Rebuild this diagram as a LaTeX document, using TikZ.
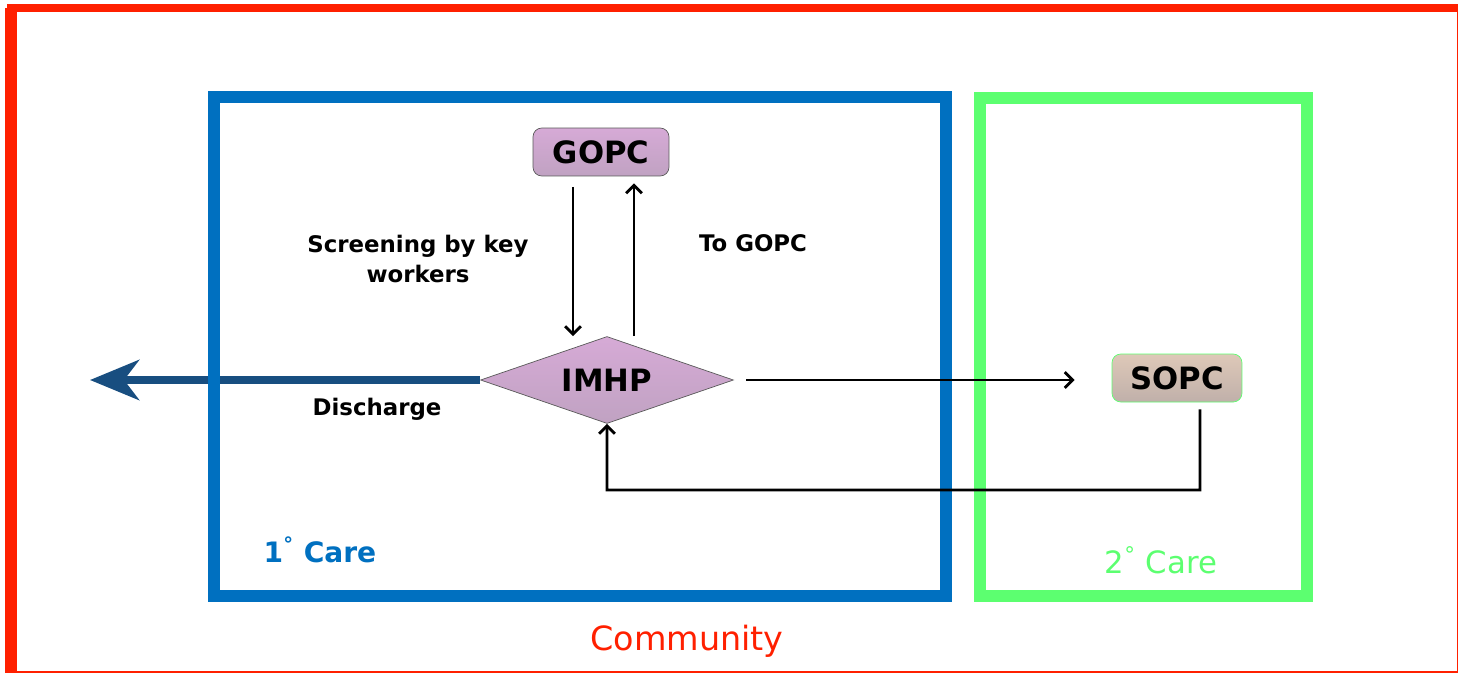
\documentclass[tikz,border=0pt]{standalone}
\usepackage{fontspec}
\setmainfont{DejaVu Sans}
\usetikzlibrary{shapes,arrows,arrows.meta}

\definecolor{careblue}{RGB}{0,112,192}
\definecolor{caregreen}{RGB}{92,255,112}
\definecolor{commred}{RGB}{255,32,0}
\definecolor{exitblue}{RGB}{24,78,128}
\definecolor{lilactop}{RGB}{214,170,214}
\definecolor{lilacbot}{RGB}{192,162,194}
\definecolor{sandtop}{RGB}{222,200,184}
\definecolor{sandbot}{RGB}{192,176,170}

\begin{document}
\begin{tikzpicture}[x=0.02cm, y=-0.02cm, >={Straight Barb[length=4.5pt, width=9pt]}]
    \tikzset{state/.style={draw=black!65, rounded corners=5pt, inner sep=0pt,
                 minimum width=2.72cm, minimum height=0.96cm,
                 font=\bfseries\fontsize{17.5}{19}\selectfont},
             decision/.style={diamond, aspect=2.9, draw=black!65, inner sep=0pt,
                 minimum width=5.06cm, minimum height=1.74cm,
                 top color=lilactop, bottom color=lilacbot,
                 font=\bfseries\fontsize{17.5}{19}\selectfont},
             flow/.style={->, line width=1.6pt},
             tag/.style={font=\bfseries\fontsize{13}{17}\selectfont, align=center},
             care/.style={font=\fontsize{17.5}{19}\selectfont}}
    \useasboundingbox (0,0) rectangle (1458,673);
    \fill[white] (0,0) rectangle (1458,673);

    % outer frame, partly cut by the page
    \draw[commred, line width=5pt] (11,8) rectangle (1461,675);
    \draw[commred, line width=7pt] (11,8) -- (11,675);

    % nodes
    \node[state, top color=lilactop, bottom color=lilacbot] (gopc) at (601,152) {GOPC};
    \node[decision] (imhp) at (607,380) {IMHP};
    \node[state, draw=caregreen, top color=sandtop, bottom color=sandbot,
          minimum width=2.6cm] (sopc) at (1177,378) {SOPC};

    % discharge goes under the primary care box
    \coordinate (out) at (90,380);
    \draw[exitblue, line width=4.6pt, -{Stealth[length=0.98cm, width=0.8cm, inset=0.3cm]}]
        (imhp.west) -- (out);

    % care boxes
    \draw[careblue, line width=6.3pt] (214,97) rectangle (946,596);
    \draw[caregreen, line width=6.3pt] (980,98) rectangle (1307,596);

    % connectors
    \coordinate (back) at (1200,490);
    \draw[flow, shorten <=6pt] ([xshift=-0.56cm]gopc.south) -- ([xshift=-0.56cm]gopc.south |- imhp.north);
    \draw[flow, shorten >=4pt] ([xshift=0.66cm]gopc.south |- imhp.north) -- ([xshift=0.66cm]gopc.south);
    \draw[flow, shorten <=7pt, shorten >=0.74cm] (imhp.east) -- (imhp.east -| sopc.west);
    \draw[flow, shorten <=4pt] ([xshift=0.46cm]sopc.south) -- (back) -| (imhp.south);

    % labels
    \node[tag] (screen) at (418,259) {Screening by key\\workers};
    \node[tag] (togo) at (753,243) {To GOPC};
    \node[tag] (dis) at (377,409) {Discharge};
    \node[care, careblue, font=\bfseries\fontsize{16}{18}\selectfont] (prim) at (320,550) {1\textsuperscript{°} Care};
    \node[care, caregreen] (sec) at (1161,560) {2\textsuperscript{°} Care};
    \node[care, commred, font=\fontsize{19}{21}\selectfont] (comm) at (687,641) {Community};
\end{tikzpicture}
\end{document}
